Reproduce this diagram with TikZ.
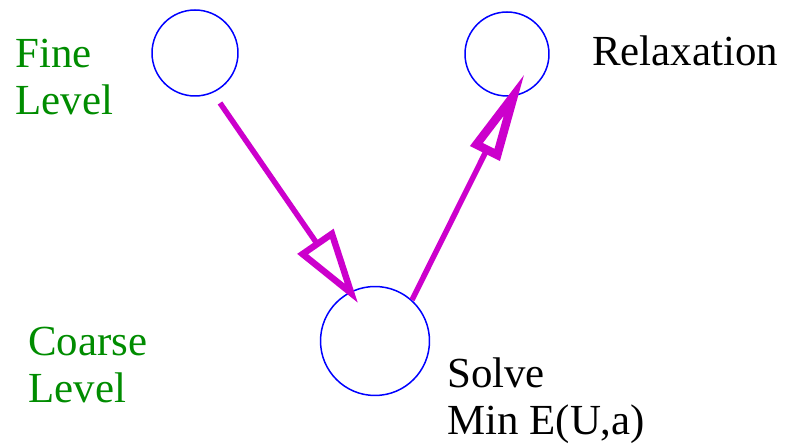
\documentclass[tikz,border=0pt]{standalone}
\usepackage{fontspec}
\setmainfont{Liberation Serif}
\usetikzlibrary{
arrows.meta,
positioning,
calc
}
\definecolor{levelgreen}{HTML}{008C00}
\definecolor{vmagenta}{HTML}{CC00CC}
\definecolor{gridblue}{HTML}{0000FF}

\begin{document}
\begin{tikzpicture}[
    x=0.02cm,
    y=-0.02cm,
    font=\fontsize{24.4}{27.3}\selectfont,
    level/.style={
        circle,
        draw=gridblue,
        line width=0.03cm,
        inner sep=0pt,
        outer sep=0pt
    },
    flow/.style={
        vmagenta,
        line width=0.11cm
    },
    lab/.style={
        anchor=base west,
        align=left,
        inner sep=0pt
    }
]

% Frame
\useasboundingbox (0,0) rectangle (785,448);

% Grid levels
\node[level, minimum size=1.72cm] (fine) at (195,53) {};
\node[level, minimum size=1.68cm] (relax) at (507,54) {};
\node[level, minimum size=2.18cm] (coarse) at (375,341) {};

% Restriction and prolongation
\draw[
    flow,
    -{Triangle[open, length=1.5cm, width=0.85cm, line width'=0.13cm]}
]
([shift={(25,50)}]fine.center) -- ([shift={(-17,-38)}]coarse.center);

\draw[
    flow,
    -{Triangle[open, length=1.8cm, width=0.62cm, line width'=0.17cm]}
]
([shift={(37,-41)}]coarse.center) -- ([shift={(18,19)}]relax.center);

% Labels (anchored at the last baseline)
\node[lab, text=levelgreen] (finelab) at (15,115) {Fine\\Level};
\node[lab, text=levelgreen] (coarselab) at (28,403) {Coarse\\Level};
\node[lab] (relaxlab) at (592,66) {Relaxation};
\node[lab] (solvelab) at (447,435) {Solve\\Min E(U,a)};

\end{tikzpicture}
\end{document}
